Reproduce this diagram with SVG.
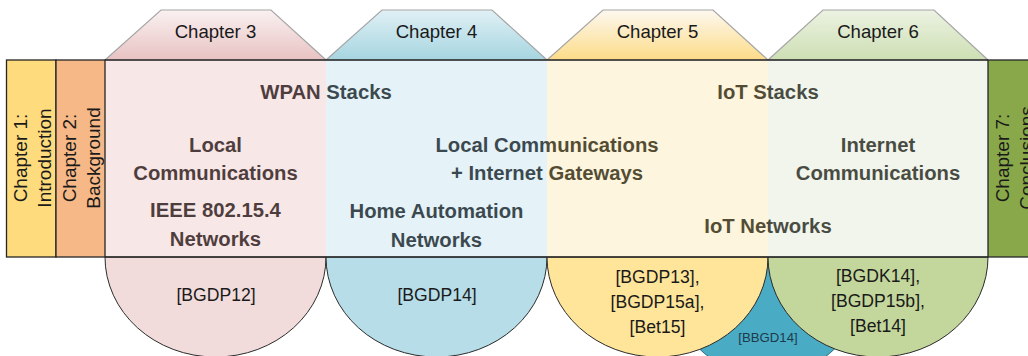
<svg xmlns="http://www.w3.org/2000/svg" width="1028" height="356" viewBox="0 0 1028 356">
  <defs>
    <style>
      .tab { stroke: #a6a6a6; stroke-width: 1.2; }
      .tabtxt { font-family: "Liberation Sans", Arial, sans-serif; font-size: 18.6px; fill: #1a1a1a; text-anchor: middle; }
      .big { font-family: "Liberation Sans", Arial, sans-serif; font-size: 20.3px; font-weight: bold; fill: #1c1c1c; text-anchor: middle; }
      .ref { font-family: "Liberation Sans", Arial, sans-serif; font-size: 17.6px; fill: #1a1a1a; text-anchor: middle; }
      .side { font-family: "Liberation Sans", Arial, sans-serif; font-size: 19px; fill: #1a1a1a; text-anchor: middle; }
      .lobe { stroke: #2b2b2b; stroke-width: 1; }
      .box { stroke: #262626; stroke-width: 1.3; }
      .veil { fill-opacity: 0.25; }
    </style>
    <linearGradient id="gPink" x1="0" y1="0" x2="0" y2="1">
      <stop offset="0" stop-color="#faf1f1"/>
      <stop offset="1" stop-color="#e8c2c2"/>
    </linearGradient>
    <linearGradient id="gBlue" x1="0" y1="0" x2="0" y2="1">
      <stop offset="0" stop-color="#e0f0f5"/>
      <stop offset="1" stop-color="#a6d5e0"/>
    </linearGradient>
    <linearGradient id="gYellow" x1="0" y1="0" x2="0" y2="1">
      <stop offset="0" stop-color="#fdf8f0"/>
      <stop offset="1" stop-color="#fddc88"/>
    </linearGradient>
    <linearGradient id="gGreen" x1="0" y1="0" x2="0" y2="1">
      <stop offset="0" stop-color="#ecf2e2"/>
      <stop offset="1" stop-color="#cddfb3"/>
    </linearGradient>
    <clipPath id="belowBand">
      <rect x="0" y="257" width="1028" height="100"/>
    </clipPath>
  </defs>

  <rect width="1028" height="356" fill="#ffffff"/>

  <!-- shared reference, sits behind the chapter 5 and 6 lobes -->
  <g id="shared-ref">
    <circle cx="767" cy="278" r="98" fill="#4aabc5" stroke="#2f6e80" stroke-width="1" clip-path="url(#belowBand)"/>
    <text x="768" y="342" font-family="'Liberation Sans', Arial, sans-serif" font-size="13.2px" fill="#1d3a4a" text-anchor="middle">[BBGD14]</text>
  </g>

  <!-- Chapter 3 -->
  <g id="chapter3">
    <polygon class="tab" points="105,60 161,10 271,10 326,60" fill="url(#gPink)"/>
    <text class="tabtxt" x="215.5" y="38">Chapter 3</text>
    <path class="lobe" d="M105,257 A110.5,100 0 0 0 326,257 Z" fill="#f2dcdb"/>
    <text class="ref" x="216" y="300.5">[BGDP12]</text>
    <text class="big" x="326" y="99.3">WPAN Stacks</text>
    <text class="big" x="215.5" y="152">Local</text>
    <text class="big" x="215.5" y="180">Communications</text>
    <text class="big" x="215.5" y="217">IEEE 802.15.4</text>
    <text class="big" x="215.5" y="246">Networks</text>
    <rect class="veil" x="105" y="60" width="221" height="197" fill="rgb(227,159,159)"/>
  </g>

  <!-- Chapter 4 -->
  <g id="chapter4">
    <polygon class="tab" points="326,60 382,10 492,10 547,60" fill="url(#gBlue)"/>
    <text class="tabtxt" x="436.5" y="38">Chapter 4</text>
    <path class="lobe" d="M326,257 A110.5,100 0 0 0 547,257 Z" fill="#b6dde8"/>
    <text class="ref" x="437" y="300.5">[BGDP14]</text>
    <text class="big" x="547" y="151.7">Local Communications</text>
    <text class="big" x="547" y="180">+ Internet Gateways</text>
    <text class="big" x="436.5" y="218.3">Home Automation</text>
    <text class="big" x="436.5" y="246.7">Networks</text>
    <rect class="veil" x="326" y="60" width="221" height="197" fill="rgb(151,203,227)"/>
  </g>

  <!-- Chapter 5 -->
  <g id="chapter5">
    <polygon class="tab" points="547,60 603,10 713,10 768,60" fill="url(#gYellow)"/>
    <text class="tabtxt" x="657.5" y="38">Chapter 5</text>
    <path class="lobe" d="M547,257 A110.5,100 0 0 0 768,257 Z" fill="#ffe599"/>
    <text class="ref" x="657.5" y="283">[BGDP13],</text>
    <text class="ref" x="657.5" y="308">[BGDP15a],</text>
    <text class="ref" x="657.5" y="333">[Bet15]</text>
    <text class="big" x="768" y="99.3">IoT Stacks</text>
    <text class="big" x="768" y="232.7">IoT Networks</text>
    <rect class="veil" x="547" y="60" width="221" height="197" fill="rgb(247,215,119)"/>
  </g>

  <!-- Chapter 6 -->
  <g id="chapter6">
    <polygon class="tab" points="768,60 823,10 934,10 988,60" fill="url(#gGreen)"/>
    <text class="tabtxt" x="878" y="38">Chapter 6</text>
    <path class="lobe" d="M768,257 A110,100 0 0 0 988,257 Z" fill="#c3d69b"/>
    <text class="ref" x="878" y="282">[BGDK14],</text>
    <text class="ref" x="878" y="307">[BGDP15b],</text>
    <text class="ref" x="878" y="332">[Bet14]</text>
    <text class="big" x="878" y="151.7">Internet</text>
    <text class="big" x="878" y="180">Communications</text>
    <rect class="veil" x="768" y="60" width="220" height="197" fill="rgb(203,215,179)"/>
  </g>

  <!-- band outline across the middle chapters -->
  <g id="band">
    <line x1="105" y1="60" x2="988" y2="60" stroke="#262626" stroke-width="1.3"/>
    <line x1="105" y1="257" x2="988" y2="257" stroke="#262626" stroke-width="1.3"/>
  </g>

  <!-- Chapter 1 -->
  <g id="chapter1">
    <rect class="box" x="6.5" y="60" width="49.5" height="197" fill="#fedb7c"/>
    <text class="side" transform="translate(26.5,158) rotate(-90)">Chapter 1:</text>
    <text class="side" transform="translate(51,158) rotate(-90)">Introduction</text>
  </g>

  <!-- Chapter 2 -->
  <g id="chapter2">
    <rect class="box" x="56" y="60" width="49" height="197" fill="#f6b886"/>
    <text class="side" transform="translate(75.5,158) rotate(-90)">Chapter 2:</text>
    <text class="side" transform="translate(100,158) rotate(-90)">Background</text>
  </g>

  <!-- Chapter 7 -->
  <g id="chapter7">
    <rect class="box" x="988" y="60" width="50" height="197" fill="#88a84a"/>
    <text class="side" transform="translate(1008.5,158) rotate(-90)">Chapter 7:</text>
    <text class="side" transform="translate(1033,158) rotate(-90)">Conclusions</text>
  </g>
</svg>
